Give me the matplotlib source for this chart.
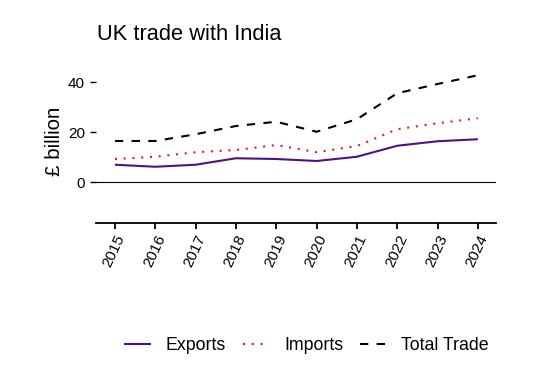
import matplotlib
matplotlib.use("Agg")
import matplotlib.pyplot as plt

years = [2015, 2016, 2017, 2018, 2019, 2020, 2021, 2022, 2023, 2024]
exports = [6.9, 6.1, 6.9, 9.5, 9.2, 8.4, 10.1, 14.5, 16.3, 17.1]
imports = [9.2, 10.1, 11.9, 12.8, 14.8, 11.9, 14.4, 21.1, 23.5, 25.5]
total = [16.4, 16.4, 19.1, 22.4, 24.1, 20.1, 25.1, 35.5, 39.2, 42.7]
yticks = [0, 20, 40]

plt.rcParams['font.family'] = ['Liberation Sans', 'DejaVu Sans']

fig = plt.figure(figsize=(5.44, 3.68), dpi=100)
W, H = 544, 368
ax = fig.add_axes([96 / W, 1 - 223 / H, 400 / W, (223 - 60) / H])

ax.plot(years, exports, color='#4B1383', lw=1.5, solid_capstyle='butt', label='Exports')
ax.plot(years, imports, color='#E3173E', lw=1.5, linestyle=(0, (1, 3.2)), label='Imports')
ax.plot(years, total, color='black', lw=1.5, linestyle=(0, (4, 4)), label='Total Trade')
ax.axhline(0, color='black', lw=0.8)

ax.set_xlim(2014.53, 2024.45)
ymin = -16.4
ymax = ymin + (223 - 60) / 2.5
ax.set_ylim(ymin, ymax)

for s in ['top', 'right', 'left']:
    ax.spines[s].set_visible(False)
ax.spines['bottom'].set_linewidth(1.3)

ax.set_xticks(years)
ax.set_xticklabels([str(y) for y in years], rotation=65, ha='right', va='top',
                   rotation_mode='anchor', fontsize=11)
ax.set_yticks(yticks)
ax.set_yticklabels([str(v) for v in yticks], fontsize=11)
ax.tick_params(axis='x', length=4, width=1.3, pad=3)
ax.tick_params(axis='y', length=4, width=1.0, pad=4)
ax.set_ylabel('£ billion', fontsize=14.8, labelpad=3)

fig.text(97 / W, 1 - 40 / H, 'UK trade with India', fontsize=15.75, ha='left', va='baseline')

leg = fig.legend(loc='center', bbox_to_anchor=(306.5 / W, 1 - 346 / H), ncol=3, frameon=False,
                 fontsize=12.8, handlelength=1.5, columnspacing=0.95, handletextpad=0.83)

fig.savefig('out.png', dpi=100)
